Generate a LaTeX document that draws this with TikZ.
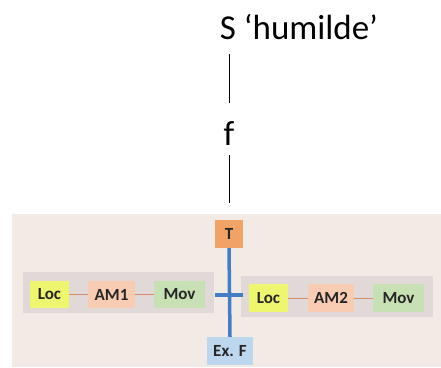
\documentclass[tikz,border=0pt]{standalone}
\usepackage{fontspec}
\setmainfont{Carlito}
\definecolor{bgc}{RGB}{242,234,229}
\definecolor{grpc}{RGB}{225,217,215}
\definecolor{locc}{RGB}{238,246,112}
\definecolor{amc}{RGB}{247,204,178}
\definecolor{movc}{RGB}{199,224,180}
\definecolor{tc}{RGB}{241,162,102}
\definecolor{exc}{RGB}{189,215,238}
\definecolor{bluel}{RGB}{68,125,195}
\definecolor{linkc}{RGB}{214,140,100}
\begin{document}
\begin{tikzpicture}[x=1pt,y=-1pt,
  box/.style={inner sep=0pt,font=\fontsize{17}{17}\selectfont\bfseries,text=black!85},
  link/.style={draw=linkc,line width=0.8pt},
  bar/.style={draw=bluel,line width=3.5pt},
  stem/.style={draw=black,line width=0.8pt}]
\useasboundingbox (0,0) rectangle (441,367);
\fill[bgc] (12,214) rectangle (441,367);
\fill[grpc] (23,272) rectangle (214,313);
\fill[grpc] (241,276) rectangle (433,317);
% top
\node[font=\fontsize{35}{35}\selectfont,anchor=base] (S) at (299,39) {S ‘humilde’};
\node[font=\fontsize{35}{35}\selectfont,anchor=base] (f) at (229,145) {f};
\coordinate (a1) at (229,54); \coordinate (a2) at (229,103);
\coordinate (b1) at (229,155); \coordinate (b2) at (229,203);
\draw[stem] (a1) -- (a2);
\draw[stem] (b1) -- (b2);
% T and Ex F
\node[box,fill=tc,minimum width=28pt,minimum height=28pt] (T) at (229,234) {T};
\node[box,fill=exc,minimum width=46pt,minimum height=28pt] (E) at (230,351) {Ex. F};
\coordinate (h1) at (215,295); \coordinate (h2) at (243,295);
\draw[bar] (T.south) -- (E.north);
\draw[bar] (h1) -- (h2);
% left group
\node[box,fill=locc,minimum width=39pt,minimum height=27pt] (L1) at (49.5,294.5) {Loc};
\node[box,fill=amc,minimum width=47pt,minimum height=27pt] (A1) at (111.5,294.5) {AM1};
\node[box,fill=movc,minimum width=51pt,minimum height=27pt] (M1) at (179.5,294.5) {Mov};
\draw[link] (L1) -- (A1);
\draw[link] (A1) -- (M1);
% right group
\node[box,fill=locc,minimum width=39pt,minimum height=28pt] (L2) at (268.5,298) {Loc};
\node[box,fill=amc,minimum width=46pt,minimum height=28pt] (A2) at (331,298) {AM2};
\node[box,fill=movc,minimum width=51pt,minimum height=28pt] (M2) at (398.5,298) {Mov};
\draw[link] (L2) -- (A2);
\draw[link] (A2) -- (M2);
\end{tikzpicture}
\end{document}
